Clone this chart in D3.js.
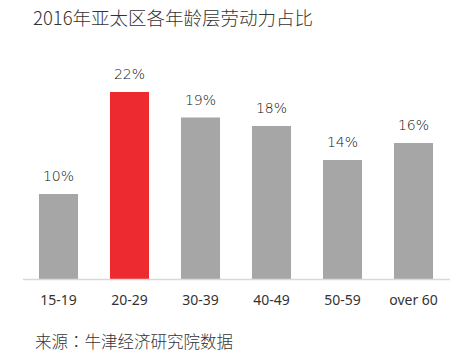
<!DOCTYPE html>
<html>
<head>
<meta charset="utf-8">
<script src="https://cdn.jsdelivr.net/npm/d3@7"></script>
<style>
  body { margin: 0; background: #fff; }
  svg { display: block; }
</style>
</head>
<body>
<div id="chart"></div>
<script>
const width = 475
const height = 363

const title = "2016年亚太区各年龄层劳动力占比"
const sourceLead = "来源"
const sourceText = "牛津经济研究院数据"
const categories = ["15-19", "20-29", "30-39", "40-49", "50-59", "over 60"]
const shares = [10, 22, 19, 18, 14, 16]
const highlight = "20-29"

const cjk = "'Noto Sans CJK SC', 'Noto Sans', sans-serif"

const svg = d3.select("#chart")
  .append("svg")
  .attr("width", width)
  .attr("height", height)

const x = d3.scaleBand()
  .domain(categories)
  .range([23, 449])
  .paddingInner(0.45)
  .paddingOuter(0.225)

const y = d3.scaleLinear()
  .domain([0, 22])
  .range([279, 92])

// title
svg.append("text")
  .attr("x", 33)
  .attr("y", 25)
  .attr("font-family", cjk)
  .attr("font-size", 18.5)
  .attr("font-weight", 300)
  .attr("fill", "#333")
  .text(title)

// bars
svg.selectAll("rect.bar")
  .data(categories)
  .enter()
  .append("rect")
  .attr("class", "bar")
  .attr("x", d => x(d))
  .attr("width", x.bandwidth())
  .attr("y", (d, i) => y(shares[i]))
  .attr("height", (d, i) => y(0) - y(shares[i]))
  .attr("fill", d => d === highlight ? "#ec2a2f" : "#a6a6a6")

// value labels
svg.selectAll("text.value")
  .data(categories)
  .enter()
  .append("text")
  .attr("class", "value")
  .attr("x", d => x(d) + x.bandwidth() / 2)
  .attr("y", (d, i) => y(shares[i]) - 13)
  .attr("text-anchor", "middle")
  .attr("font-family", "'DejaVu Sans', sans-serif")
  .attr("font-size", 14)
  .attr("font-weight", 200)
  .attr("fill", "#111")
  .text((d, i) => shares[i] + "%")

// baseline
svg.append("line")
  .attr("x1", 23)
  .attr("x2", 450)
  .attr("y1", y(0) + 0.5)
  .attr("y2", y(0) + 0.5)
  .attr("stroke", "#d9d9d9")
  .attr("stroke-width", 1.5)

// category labels
const xAxis = svg.append("g")
  .attr("transform", `translate(0,${y(0)})`)
  .call(d3.axisBottom(x).tickSize(0).tickPadding(16))

xAxis.select(".domain").remove()
xAxis.selectAll("text")
  .attr("font-family", "'Noto Sans', sans-serif")
  .attr("font-size", 14)
  .attr("fill", "#333")

// source note (centered full-width colon)
const note = svg.append("text")
  .attr("x", 35)
  .attr("y", 348)
  .attr("font-family", cjk)
  .attr("font-size", 16.5)
  .attr("font-weight", 300)
  .attr("fill", "#333")
note.append("tspan").text(sourceLead)
note.append("tspan")
  .attr("font-family", "'Noto Sans CJK JP', sans-serif")
  .text("：")
note.append("tspan").text(sourceText)
</script>
</body>
</html>
